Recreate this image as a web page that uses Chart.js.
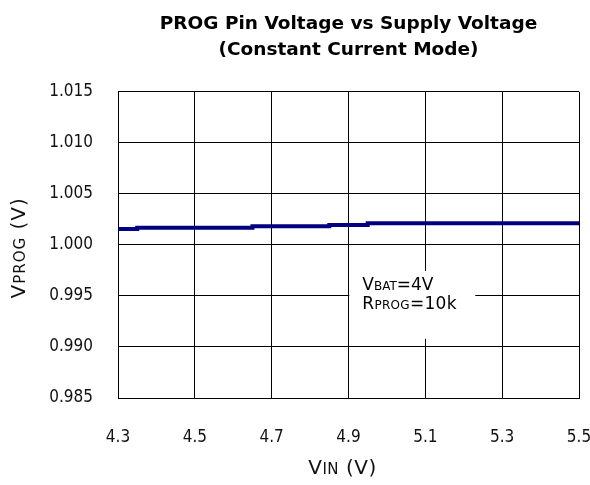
<!DOCTYPE html>
<html>
<head>
<meta charset="utf-8">
<script src="https://cdn.jsdelivr.net/npm/chart.js@4/dist/chart.umd.min.js"></script>
<style>
html,body{margin:0;padding:0;background:#fff;}
#wrap{width:590px;height:485px;position:relative;}
</style>
</head>
<body>
<div id="wrap"><canvas id="c" width="590" height="485"></canvas></div>
<script>
// Data (step changes of the PROG voltage)
const vinPoints = [4.30, 4.35, 4.65, 4.85, 4.95, 5.35, 5.50];
const vprogValues = [1.00145, 1.00155, 1.00167, 1.00182, 1.00195, 1.00212, 1.00212];
const xTicks = [4.3, 4.5, 4.7, 4.9, 5.1, 5.3, 5.5];
const yTicks = [0.985, 0.990, 0.995, 1.000, 1.005, 1.010, 1.015];
const titleLines = ['PROG Pin Voltage vs Supply Voltage', '(Constant Current Mode)'];
const noteLines = [[['V', 0], ['BAT', 1], ['=4V', 0]], [['R', 0], ['PROG', 1], ['=10k', 0]]];
const noteBox = {x0: 4.902, x1: 5.23, y0: 0.99745, y1: 0.9908};
const xTitle = [['V', 0], ['IN', 1], [' (V)', 0]];
const yTitle = [['V', 0], ['PROG', 1], [' (V)', 0]];

const FONT = "'DejaVu Sans', sans-serif";
const TICKFONT = "'DejaVu Sans Condensed', 'DejaVu Sans', sans-serif";
function drawParts(ctx, parts, x, y, big, small, align, spacing) {
  ctx.letterSpacing = (spacing || 0) + 'px';
  let w = 0;
  parts.forEach(p => { ctx.font = (p[1] ? small : big) + 'px ' + FONT; w += ctx.measureText(p[0]).width; });
  let cx = align === 'center' ? x - w / 2 : x;
  ctx.textBaseline = 'alphabetic';
  ctx.textAlign = 'left';
  parts.forEach(p => {
    ctx.font = (p[1] ? small : big) + 'px ' + FONT;
    ctx.fillText(p[0], cx, y);
    cx += ctx.measureText(p[0]).width;
  });
  ctx.letterSpacing = '0px';
}

const extras = {
  id: 'extras',
  afterDatasetsDraw(chart) {
    const ctx = chart.ctx;
    const xs = chart.scales.x, ys = chart.scales.y;
    const ca = chart.chartArea;
    ctx.save();
    // annotation box
    const bx0 = xs.getPixelForValue(noteBox.x0), bx1 = xs.getPixelForValue(noteBox.x1);
    const by0 = ys.getPixelForValue(noteBox.y0), by1 = ys.getPixelForValue(noteBox.y1);
    ctx.fillStyle = '#fff';
    ctx.fillRect(bx0, by0, bx1 - bx0, by1 - by0);
    ctx.fillStyle = '#000';
    drawParts(ctx, noteLines[0], bx0 + 13, by0 + 19, 17, 12, 'left', 0);
    drawParts(ctx, noteLines[1], bx0 + 13, by0 + 38, 17, 12, 'left', 0.3);
    // x axis title
    ctx.fillStyle = '#111';
    drawParts(ctx, xTitle, (ca.left + ca.right) / 2 - 6, 474, 20, 15, 'center', 0.5);
    // y axis title
    ctx.translate(25, (ca.top + ca.bottom) / 2 + 3);
    ctx.rotate(-Math.PI / 2);
    drawParts(ctx, yTitle, 0, 0, 20, 15, 'center', 1);
    ctx.restore();
  }
};

new Chart(document.getElementById('c'), {
  type: 'line',
  data: {
    datasets: [{
      data: vinPoints.map((x, i) => ({x: x, y: vprogValues[i]})),
      borderColor: '#000080',
      backgroundColor: '#000080',
      borderWidth: 4,
      pointRadius: 0,
      stepped: 'after',
      fill: false
    }]
  },
  options: {
    responsive: false,
    animation: false,
    layout: {padding: {right: 11, left: 0, top: 0, bottom: 0}},
    plugins: {
      legend: {display: false},
      tooltip: {enabled: false},
      title: {
        display: true,
        fullSize: false,
        text: titleLines,
        color: '#000',
        font: {family: FONT, size: 18.5, weight: 'bold', lineHeight: 1.4},
        padding: {top: 11, bottom: 29}
      }
    },
    scales: {
      x: {
        type: 'linear',
        min: 4.3, max: 5.5,
        afterBuildTicks(s) { s.ticks = xTicks.map(v => ({value: v})); },
        afterFit(s) { s.height = 87; s.paddingLeft = 0; s.paddingRight = 0; },
        grid: {color: '#000', lineWidth: 1, drawTicks: false},
        border: {color: '#000', width: 1},
        ticks: {
          padding: 29,
          color: '#111',
          font: {family: TICKFONT, size: 17},
          callback: v => Number(v).toFixed(1)
        }
      },
      y: {
        type: 'linear',
        min: 0.985, max: 1.015,
        afterBuildTicks(s) { s.ticks = yTicks.map(v => ({value: v})); },
        afterFit(s) { s.width = 118; s.paddingTop = 0; s.paddingBottom = 0; },
        grid: {color: '#000', lineWidth: 1, drawTicks: false},
        border: {color: '#000', width: 1},
        ticks: {
          padding: 25,
          color: '#111',
          font: {family: TICKFONT, size: 17},
          callback: v => Number(v).toFixed(3)
        }
      }
    }
  },
  plugins: [extras]
});
</script>
</body>
</html>
